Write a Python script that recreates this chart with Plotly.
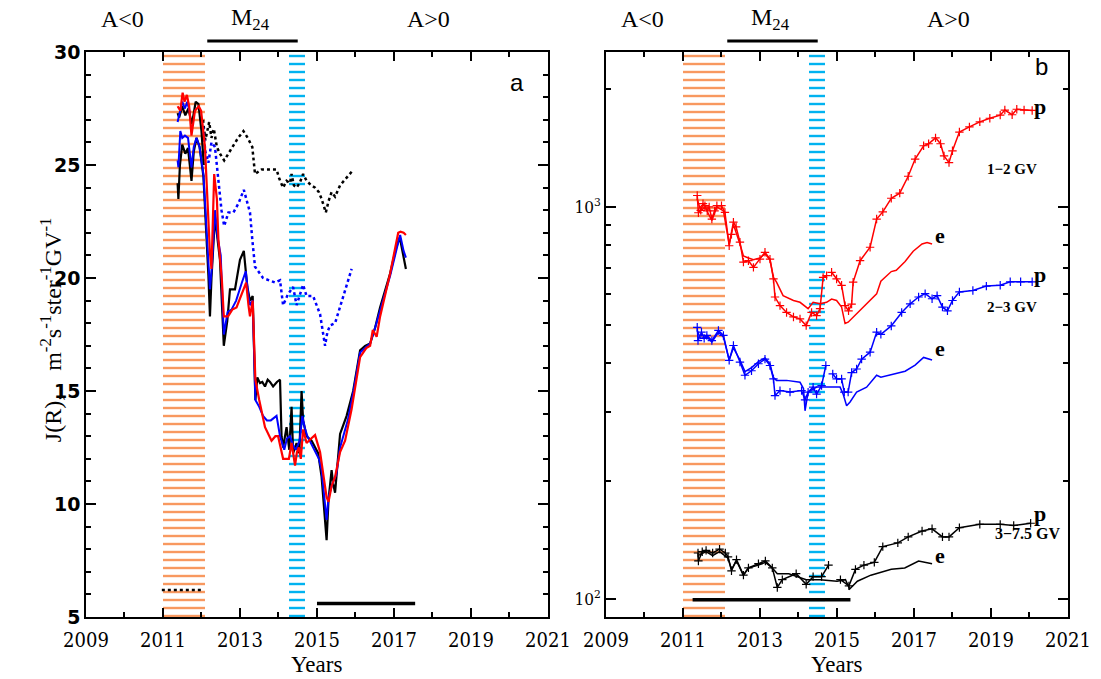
import plotly.graph_objects as go

# ---------------- panel a : J(R) time profiles (linear scale) ----------------
red_x = [2011.38, 2011.45, 2011.51, 2011.56, 2011.62, 2011.68, 2011.74, 2011.79, 2011.83, 2011.93,
         2011.99, 2012.09, 2012.17, 2012.22, 2012.26, 2012.33, 2012.40, 2012.44, 2012.53, 2012.58,
         2012.69, 2012.80, 2012.91, 2013.05, 2013.16, 2013.22, 2013.26, 2013.33, 2013.37, 2013.40,
         2013.50, 2013.65, 2013.82, 2013.92, 2013.99, 2014.12, 2014.27, 2014.34, 2014.43, 2014.48,
         2014.53, 2014.58, 2014.64, 2014.73, 2014.85, 2014.95, 2015.08, 2015.16, 2015.25, 2015.30,
         2015.38, 2015.47, 2015.60, 2015.73, 2015.90, 2016.12, 2016.28, 2016.38, 2016.45, 2016.55,
         2016.64, 2016.90, 2017.11, 2017.17, 2017.25, 2017.31]
red_y = [27.6, 27.4, 28.2, 27.8, 28.1, 27.6, 26.3, 26.9, 27.4, 27.6,
         27.4, 25.8, 22.9, 21.1, 20.4, 24.6, 23.5, 21.7, 19.9, 18.3,
         18.3, 18.6, 18.7, 19.3, 19.8, 18.8, 18.3, 19.0, 17.0, 15.5,
         14.6, 13.4, 12.8, 13.0, 13.0, 12.0, 12.0, 12.7, 11.7, 12.3,
         12.5, 12.0, 13.3, 12.7, 12.9, 13.05, 12.3, 11.4, 10.3, 10.1,
         10.8, 11.2, 12.3, 12.8, 14.2, 16.5, 16.9, 17.0, 17.7, 17.4,
         18.3, 20.2, 22.0, 22.05, 22.0, 21.9]

black_x = [2011.38, 2011.40, 2011.44, 2011.50, 2011.58, 2011.65, 2011.74, 2011.80, 2011.87, 2011.95,
           2012.05, 2012.12, 2012.18, 2012.22, 2012.26, 2012.35, 2012.42, 2012.48, 2012.58, 2012.67,
           2012.74, 2012.87, 2013.00, 2013.10, 2013.19, 2013.26, 2013.33, 2013.37, 2013.40, 2013.45,
           2013.52, 2013.58, 2013.65, 2013.72, 2013.78, 2013.86, 2013.96, 2014.04, 2014.08, 2014.12,
           2014.21, 2014.28, 2014.34, 2014.38, 2014.47, 2014.54, 2014.60, 2014.64, 2014.73, 2014.86,
           2015.03, 2015.12, 2015.21, 2015.25, 2015.30, 2015.38, 2015.42, 2015.47, 2015.60, 2015.77,
           2015.94, 2016.12, 2016.25, 2016.38, 2016.51, 2016.64, 2016.90, 2017.05, 2017.15, 2017.25,
           2017.31]
black_y = [24.2, 23.5, 25.0, 25.9, 25.5, 25.75, 24.3, 25.6, 26.2, 25.8,
           24.5, 22.3, 20.1, 18.3, 20.0, 22.7, 21.6, 20.8, 17.0, 18.1,
           19.5, 19.5, 20.8, 21.2, 19.6, 19.0, 19.2, 16.4, 14.6, 15.6,
           15.35, 15.4, 15.2, 15.5, 15.4, 15.2, 15.4, 15.5, 13.0, 12.5,
           13.4, 12.4, 14.3, 12.25, 12.7, 12.25, 15.0, 13.7, 13.0, 12.8,
           12.25, 11.2, 9.4, 8.4, 10.2, 11.5, 10.9, 10.5, 13.1, 13.9,
           15.0, 16.8, 17.0, 17.1, 17.8, 18.7, 20.2, 21.3, 21.8, 20.9,
           20.4]

black_hi_x = [2011.38, 2011.42, 2011.50, 2011.58, 2011.66, 2011.75, 2011.85, 2011.92, 2012.00, 2012.06]
black_hi_y = [27.3, 27.1, 27.6, 27.2, 27.5, 26.8, 27.8, 27.7, 26.5, 25.0]

blue_x = [2011.38, 2011.40, 2011.45, 2011.50, 2011.57, 2011.65, 2011.74, 2011.80, 2011.87, 2011.95,
          2012.05, 2012.12, 2012.18, 2012.22, 2012.27, 2012.35, 2012.42, 2012.50, 2012.58, 2012.68,
          2012.78, 2012.90, 2013.05, 2013.15, 2013.22, 2013.26, 2013.33, 2013.37, 2013.40, 2013.50,
          2013.60, 2013.70, 2013.80, 2013.95, 2014.04, 2014.15, 2014.22, 2014.30, 2014.38, 2014.45,
          2014.55, 2014.62, 2014.68, 2014.75, 2014.90, 2015.05, 2015.12, 2015.20, 2015.25, 2015.30,
          2015.40, 2015.50, 2015.60, 2015.80, 2015.95, 2016.12, 2016.38, 2016.51, 2016.64, 2016.90,
          2017.10, 2017.16, 2017.25, 2017.31]
blue_y = [25.2, 24.9, 26.5, 26.2, 26.3, 26.2, 24.9, 25.8, 26.2, 25.8,
          24.6, 22.5, 20.6, 19.5, 20.5, 23.0, 21.8, 21.0, 17.5, 18.5,
          18.6, 19.0, 19.8, 20.3, 19.2, 18.8, 19.0, 16.0, 14.6, 14.3,
          13.9, 13.7, 13.7, 13.9, 13.0, 12.4, 12.9, 13.0, 12.6, 12.4,
          12.8, 13.9, 13.4, 13.0, 12.5, 12.0, 11.5, 10.2, 9.3, 10.3,
          10.9, 11.3, 12.5, 13.7, 15.0, 16.7, 17.1, 17.8, 18.6, 20.1,
          21.5, 21.9, 21.2, 20.9]

blue_hi_x = [2011.38, 2011.44, 2011.50, 2011.57, 2011.63, 2011.70]
blue_hi_y = [26.9, 27.4, 27.8, 27.5, 27.8, 27.3]

black_dot_x = [2012.04, 2012.10, 2012.15, 2012.20, 2012.26, 2012.32, 2012.40, 2012.48, 2012.59, 2012.70,
               2012.82, 2012.95, 2013.09, 2013.20, 2013.32, 2013.39, 2013.56, 2013.75, 2013.95, 2014.02,
               2014.12, 2014.21, 2014.30, 2014.34, 2014.40, 2014.47, 2014.55, 2014.64, 2014.73, 2014.85,
               2014.95, 2015.05, 2015.12, 2015.23, 2015.30, 2015.38, 2015.47, 2015.60, 2015.75, 2015.90]
black_dot_y = [27.0, 26.1, 26.5, 26.9, 26.2, 26.6, 25.8, 25.5, 25.2, 25.5,
               25.8, 26.2, 26.5, 26.2, 25.8, 24.6, 24.8, 24.8, 24.8, 24.4,
               24.0, 24.3, 24.2, 24.6, 24.1, 24.0, 24.2, 24.6, 24.3, 24.1,
               24.0, 23.8, 23.5, 22.9, 23.4, 23.8, 23.6, 24.1, 24.4, 24.7]

blue_dot_x = [2012.04, 2012.10, 2012.18, 2012.26, 2012.35, 2012.44, 2012.52, 2012.59, 2012.70, 2012.83,
              2012.96, 2013.10, 2013.26, 2013.32, 2013.39, 2013.60, 2013.91, 2014.04, 2014.12, 2014.25,
              2014.38, 2014.47, 2014.55, 2014.64, 2014.73, 2014.90, 2015.08, 2015.15, 2015.21, 2015.27,
              2015.34, 2015.47, 2015.68, 2015.90]
blue_dot_y = [26.7, 25.6, 25.1, 26.0, 25.8, 24.3, 23.0, 22.3, 22.9, 22.9,
              23.3, 23.9, 22.9, 21.7, 20.5, 20.0, 19.8, 19.9, 18.8, 19.3,
              19.6, 18.8, 19.2, 19.7, 19.2, 19.2, 18.4, 17.6, 17.0, 17.6,
              17.9, 18.0, 19.2, 20.4]

# reference intervals shown as horizontal bars in panel a
a_bar_solid = dict(x=[2015.0, 2017.55], level=5.6)
a_bar_dotted = dict(x=[2010.97, 2012.0], level=6.2)

# ---------------- panel b : protons (p) and electrons (e), log scale ----------------
p12_x = [2011.37, 2011.40, 2011.46, 2011.52, 2011.57, 2011.63, 2011.68, 2011.75, 2011.82, 2011.88,
         2012.00, 2012.09, 2012.20, 2012.26, 2012.31, 2012.38, 2012.48, 2012.57, 2012.70, 2012.83,
         2013.00, 2013.13, 2013.26, 2013.35, 2013.39, 2013.52, 2013.69, 2013.87, 2014.04, 2014.20,
         2014.34, 2014.47, 2014.56, 2014.64, 2014.73, None, 2014.86, 2014.99, 2015.12, 2015.21,
         2015.30, 2015.38, 2015.42, 2015.60, 2015.86, 2016.03, 2016.19, 2016.41, 2016.63, 2016.85,
         2017.03, 2017.25, 2017.38, 2017.56, 2017.69, 2017.78, 2017.91, 2018.00, 2018.18, 2018.44,
         2018.71, 2018.97, 2019.24, 2019.36, 2019.55, 2019.67, 2019.86, 2020.07]
p12_y = [1069, 966, 980, 1019, 1007, 977, 1000, 931, 977, 1007,
         1007, 968, 796, 851, 914, 889, 813, 723, 729, 701,
         736, 766, 736, 655, 589, 560, 538, 524, 518, 498,
         538, 528, 550, 661, 668, None, 681, 655, 631, 560,
         543, 565, 643, 729, 789, 931, 971, 1052, 1084, 1197,
         1324, 1432, 1449, 1500, 1449, 1349, 1297, 1390, 1552, 1600,
         1648, 1683, 1714, 1766, 1718, 1774, 1766, 1762]

e12_x = [2011.37, 2011.46, 2011.57, 2011.75, 2011.88, 2012.05, 2012.20, 2012.31, 2012.48, 2012.57,
         2012.70, 2012.83, 2013.00, 2013.13, 2013.26, 2013.35, 2013.43, 2013.60, 2013.87, 2014.04,
         2014.25, 2014.38, 2014.56, 2014.73, 2014.86, 2014.99, 2015.12, 2015.21, 2015.29, 2015.51,
         2015.77, 2016.03, 2016.14, 2016.41, 2016.54, 2016.77, 2016.98, 2017.21, 2017.34, 2017.47]
e12_y = [1047, 977, 1000, 923, 1000, 977, 804, 902, 804, 750,
         741, 733, 741, 759, 733, 661, 643, 594, 577, 571,
         550, 571, 566, 571, 582, 577, 555, 504, 508, 533,
         566, 600, 646, 684, 689, 726, 771, 804, 811, 804]

p23_x = [2011.37, 2011.39, 2011.48, 2011.55, 2011.62, 2011.75, 2011.92, 2012.05, 2012.20, 2012.31,
         2012.48, 2012.61, 2012.78, 2012.96, 2013.13, 2013.26, 2013.35, 2013.39, 2013.52, 2013.78,
         2014.08, 2014.17, 2014.25, 2014.38, 2014.47, 2014.60, 2014.71, None, 2014.89, 2014.99,
         2015.12, 2015.19, 2015.29, 2015.38, 2015.51, 2015.64, 2015.86, 2016.03, 2016.14, 2016.41,
         2016.68, 2016.90, 2017.12, 2017.29, 2017.47, 2017.60, 2017.74, 2017.87, 2018.00, 2018.18,
         2018.53, 2018.88, 2019.24, 2019.50, 2019.77, 2020.07]
p23_y = [493, 456, 479, 462, 470, 456, 484, 470, 406, 443,
         402, 372, 382, 398, 409, 394, 364, 330, 340, 337,
         340, 322, 337, 347, 333, 350, 394, None, 375, 364,
         364, 337, 337, 378, 386, 409, 426, 479, 473, 497,
         538, 566, 589, 601, 583, 594, 555, 543, 577, 607,
         612, 628, 631, 644, 644, 644]

e23_x = [2011.37, 2011.45, 2011.62, 2011.75, 2011.92, 2012.05, 2012.20, 2012.31, 2012.48, 2012.61,
         2012.78, 2012.96, 2013.13, 2013.26, 2013.35, 2013.43, 2013.69, 2014.04, 2014.13, 2014.17,
         2014.25, 2014.47, 2014.73, 2015.08, 2015.16, 2015.25, 2015.34, 2015.51, 2015.77, 2016.03,
         2016.14, 2016.50, 2016.77, 2017.03, 2017.25, 2017.47]
e23_y = [484, 462, 466, 452, 479, 466, 407, 437, 407, 380,
         389, 403, 412, 398, 367, 361, 361, 357, 344, 302,
         337, 347, 347, 347, 333, 311, 318, 337, 347, 372,
         368, 376, 381, 395, 413, 407]

p375_x = [2011.39, 2011.40, 2011.50, 2011.60, 2011.77, 2011.95, 2012.10, 2012.17, 2012.26, 2012.39,
          2012.57, 2012.70, 2012.96, 2013.14, 2013.32, 2013.45, 2013.58, 2013.94, 2014.20, 2014.38,
          2014.60, 2014.78, None, 2015.09, 2015.31, 2015.48, 2015.70, 2015.97, 2016.19, 2016.58,
          2016.85, 2017.21, 2017.47, 2017.74, 2017.91, 2018.18, 2018.71, 2019.24, 2019.59, 2020.03]
p375_y = [131, 125, 132, 133, 131, 134, 131, 128, 118, 126,
          115, 120, 123, 125, 120, 107, 112, 116, 109, 114,
          114, 122, None, 112, 108, 119, 122, 124, 136, 139,
          144, 149, 151, 144, 144, 152, 155, 155, 154, 156]

e375_x = [2011.39, 2011.60, 2011.77, 2011.95, 2012.17, 2012.26, 2012.39, 2012.57, 2012.70, 2012.96,
          2013.14, 2013.32, 2013.45, 2013.75, 2014.20, 2014.56, 2015.00, 2015.22, 2015.33, 2015.53,
          2015.88, 2016.41, 2016.76, 2017.12, 2017.47]
e375_y = [129, 132, 129, 132, 127, 119, 125, 115, 120, 122,
          124, 120, 116, 116, 112, 112, 111, 112, 106, 111,
          115, 119, 120, 125, 123]

b_bar_solid = dict(x=[2011.25, 2015.35], level=99.5)

# shaded periods (hatched bands) and solar-cycle annotations
band_orange = [2011.0, 2012.1]
band_blue = [2014.27, 2014.7]
m24_period = [2012.15, 2014.5]
polarity_labels = [("A<0", 2009.96), ("M<sub>24</sub>", 2013.28), ("A>0", 2017.9)]

ORANGE = "#F8985F"
CYAN = "#00B2F0"
RED = "#FF0000"
BLUE = "#0000FF"
BLACK = "#000000"

fig = go.Figure()


def band(xr, color, xa, ya, base, top):
    fig.add_trace(go.Bar(
        x=[(xr[0] + xr[1]) / 2], y=[top - base], base=[base], width=[xr[1] - xr[0]],
        marker=dict(color=color, line=dict(width=0),
                    pattern=dict(shape="-", size=8, solidity=0.3, fgcolor=color,
                                 bgcolor="rgba(0,0,0,0)", fillmode="replace")),
        xaxis=xa, yaxis=ya, showlegend=False, hoverinfo="skip"))


for xa, ya, lo, hi in (("x", "y", 0, 40), ("x2", "y2", 10, 10000)):
    band(band_orange, ORANGE, xa, ya, lo, hi)
    band(band_blue, CYAN, xa, ya, lo, hi)


def line(x, y, color, xa="x", ya="y", width=2.0, dash="solid", markers=False):
    fig.add_trace(go.Scatter(
        x=x, y=y, xaxis=xa, yaxis=ya, mode="lines+markers" if markers else "lines",
        line=dict(color=color, width=width, dash=dash),
        marker=dict(symbol="cross-thin", size=6, line=dict(color=color, width=1.2)),
        connectgaps=False, showlegend=False, hoverinfo="skip"))


# panel a
line(black_dot_x, black_dot_y, BLACK, width=2.5, dash="dot")
line(blue_dot_x, blue_dot_y, BLUE, width=2.5, dash="dot")
line(black_hi_x, black_hi_y, BLACK, width=2.2)
line(blue_hi_x, blue_hi_y, BLUE, width=2.0)
line(black_x, black_y, BLACK, width=2.2)
line(blue_x, blue_y, BLUE, width=2.0)
line(red_x, red_y, RED, width=2.2)
line(a_bar_solid["x"], [a_bar_solid["level"]] * 2, BLACK, width=3.5)
line(a_bar_dotted["x"], [a_bar_dotted["level"]] * 2, BLACK, width=2.5, dash="dot")

# panel b
for xs, ys, col, is_p in ((p12_x, p12_y, RED, True), (e12_x, e12_y, RED, False),
                          (p23_x, p23_y, BLUE, True), (e23_x, e23_y, BLUE, False),
                          (p375_x, p375_y, BLACK, True), (e375_x, e375_y, BLACK, False)):
    line(xs, ys, col, "x2", "y2", width=1.5, markers=is_p)
line(b_bar_solid["x"], [b_bar_solid["level"]] * 2, BLACK, "x2", "y2", width=3.5)

axis_line = dict(showline=True, linecolor=BLACK, linewidth=1.5, mirror="ticks",
                 ticks="inside", tickcolor=BLACK, tickwidth=1.5, showgrid=False,
                 zeroline=False, automargin=False)
xfont = dict(family="DejaVu Serif Condensed, Liberation Serif", size=20, color=BLACK)

x_common = dict(axis_line, range=[2009, 2021], tickvals=list(range(2009, 2022, 2)),
                ticklen=9, tickfont=xfont, ticklabelstandoff=4,
                minor=dict(dtick=1, tick0=2009, ticks="inside", ticklen=5,
                           tickcolor=BLACK, tickwidth=1.5))

fig.update_layout(
    width=1101, height=679, margin=dict(l=0, r=0, t=0, b=0, autoexpand=False),
    paper_bgcolor="white", plot_bgcolor="white", barmode="overlay", bargap=0,
    xaxis=dict(x_common, domain=[0.0781, 0.4977], anchor="y"),
    xaxis2=dict(x_common, domain=[0.5504, 0.9700], anchor="y2"),
    yaxis=dict(axis_line, domain=[0.0913, 0.9234], anchor="x", range=[5, 30],
               tickvals=[5, 10, 15, 20, 25, 30], ticklen=10,
               tickfont=dict(family="DejaVu Sans", size=19, color=BLACK, weight="bold"),
               minor=dict(dtick=1, tick0=5, ticks="inside", ticklen=5,
                          tickcolor=BLACK, tickwidth=1.5)),
    yaxis2=dict(axis_line, domain=[0.0913, 0.9234], anchor="x2", type="log",
                range=[1.954, 3.395], tickvals=[100, 1000],
                ticktext=["10<sup>2</sup>", "10<sup>3</sup>"], ticklen=10,
                tickfont=dict(family="DejaVu Serif Condensed, Liberation Serif", size=17,
                              color=BLACK),
                minor=dict(tickvals=[200, 300, 400, 500, 600, 700, 800, 900, 2000],
                           ticks="inside", ticklen=5, tickcolor=BLACK, tickwidth=1.5)),
)

serif = "Liberation Serif"
ann = []
for xref in ("x", "x2"):
    for txt, xv in polarity_labels:
        ann.append(dict(x=xv, y=0.972, xref=xref, yref="paper", text=txt, showarrow=False,
                        font=dict(family=serif, size=24, color=BLACK), xanchor="center",
                        yanchor="middle"))
    ann.append(dict(x=2015.0, y=0.022, xref=xref, yref="paper", text="Years", showarrow=False,
                    font=dict(family=serif, size=23, color=BLACK), yanchor="middle"))
    fig.add_shape(type="line", xref=xref, yref="paper", x0=m24_period[0], x1=m24_period[1],
                  y0=0.9396, y1=0.9396, line=dict(color=BLACK, width=3))

ann.append(dict(x=0.031, y=0.514, xref="paper", yref="paper", textangle=-90, showarrow=False,
                text="J(R),    m<sup>-2</sup>s<sup>-1</sup>ster<sup>-1</sup>GV<sup>-1</sup>",
                font=dict(family=serif, size=24, color=BLACK)))
ann.append(dict(x=2020.2, y=28.67, xref="x", yref="y", text="a", showarrow=False,
                font=dict(family="Liberation Sans", size=24, color=BLACK)))
ann.append(dict(x=2020.3, y=3.357, xref="x2", yref="y2", text="b", showarrow=False,
                font=dict(family="Liberation Sans", size=24, color=BLACK)))

side_labels = [("p", 2020.27, 3.255, 22), ("1\u22122 GV", 2019.55, 3.097, 15),
               ("e", 2017.68, 2.926, 22), ("p", 2020.27, 2.827, 22),
               ("2\u22123 GV", 2019.55, 2.745, 15), ("e", 2017.68, 2.638, 22),
               ("p", 2020.27, 2.217, 22), ("3\u22127.5 GV", 2019.95, 2.168, 16),
               ("e", 2017.68, 2.112, 22)]
for txt, xv, yv, sz in side_labels:
    ann.append(dict(x=xv, y=yv, xref="x2", yref="y2", text=txt, showarrow=False,
                    font=dict(family=serif, size=sz, color=BLACK, weight="bold")))

fig.update_layout(annotations=ann)
fig.write_html("out.html")
